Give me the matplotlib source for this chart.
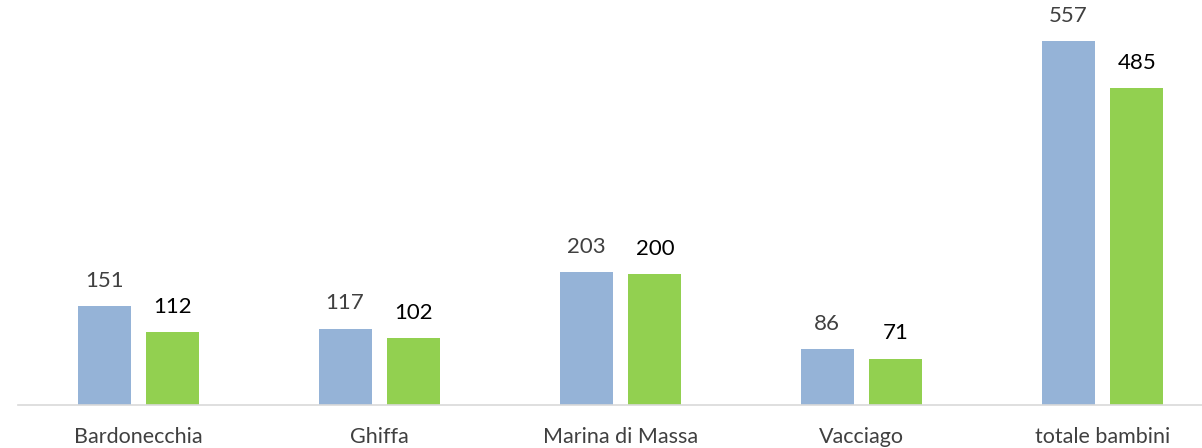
import numpy as np
import matplotlib.pyplot as plt

plt.rcParams["font.family"] = ["Lato", "DejaVu Sans"]

categories = ["Bardonecchia", "Ghiffa", "Marina di Massa", "Vacciago", "totale bambini"]
serie_a = [151, 117, 203, 86, 557]
serie_b = [112, 102, 200, 71, 485]

fig = plt.figure(figsize=(12.02, 4.48), dpi=100)
ax = fig.add_axes([18 / 1202, 43 / 448, 1205 / 1202, 405 / 448])

x = np.arange(len(categories))
w = 0.22
off = 0.143

b1 = ax.bar(x - off, serie_a, width=w, color="#95B3D7")
b2 = ax.bar(x + off, serie_b, width=w, color="#92D050")

for rect, v in zip(b1, serie_a):
    ax.annotate(str(v), (rect.get_x() + rect.get_width() / 2, rect.get_height()),
                xytext=(0, 11), textcoords="offset points", ha="center", va="bottom",
                fontsize=16, color="#404040")
for rect, v in zip(b2, serie_b):
    ax.annotate(str(v), (rect.get_x() + rect.get_width() / 2, rect.get_height()),
                xytext=(0, 11), textcoords="offset points", ha="center", va="bottom",
                fontsize=16, color="black")

ax.set_xlim(-0.5, len(categories) - 0.5)
ax.set_ylim(0, 620)
ax.set_xticks(x)
ax.set_xticklabels(categories, fontsize=15.5, color="#404040")
ax.tick_params(axis="x", length=0, pad=16)
ax.set_yticks([])
for s in ["top", "right", "left"]:
    ax.spines[s].set_visible(False)
ax.spines["bottom"].set_color("#D9D9D9")
ax.spines["bottom"].set_linewidth(1.2)

fig.savefig("out.png", dpi=100)
